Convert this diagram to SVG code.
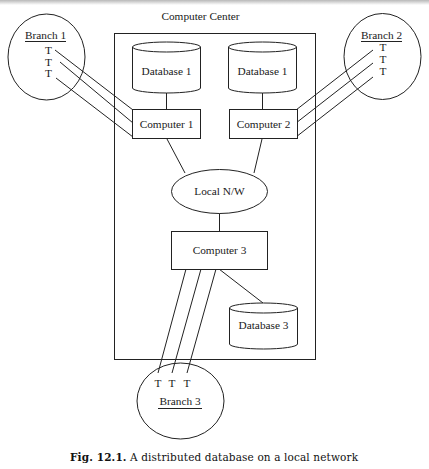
<svg xmlns="http://www.w3.org/2000/svg" width="429" height="469" viewBox="0 0 429 469">
<defs>
<linearGradient id="shade" x1="0" y1="0" x2="0" y2="1">
<stop offset="0" stop-color="#b8b8b8"/>
<stop offset="1" stop-color="#ffffff"/>
</linearGradient>
</defs>
<style>
.ln{fill:none;stroke:#222;stroke-width:1}
.sh{fill:#fff;stroke:#222;stroke-width:1}
.t{font-family:"Liberation Serif","Times New Roman",serif;font-size:11.3px;fill:#1a1a1a;text-anchor:middle}
.cap{font-family:"DejaVu Serif","Liberation Serif",serif;font-size:10.5px;fill:#111}
</style>
<rect width="429" height="469" fill="#fff"/>
<rect x="0" y="0" width="429" height="5" fill="url(#shade)"/>
<g id="center">
<rect class="sh" x="114.5" y="33.5" width="201" height="326"/>
<text class="t" x="200.5" y="20">Computer Center</text>
</g>
<g id="connectors">
<line class="ln" x1="55" y1="50" x2="133" y2="110"/>
<line class="ln" x1="60" y1="62" x2="133" y2="123"/>
<line class="ln" x1="56" y1="78" x2="133" y2="137"/>
<line class="ln" x1="373" y1="50" x2="296" y2="110"/>
<line class="ln" x1="373" y1="63" x2="296" y2="123"/>
<line class="ln" x1="373" y1="77" x2="296" y2="137"/>
<line class="ln" x1="166.5" y1="93" x2="166.5" y2="109"/>
<line class="ln" x1="262.5" y1="93" x2="262.5" y2="109"/>
<line class="ln" x1="167" y1="139" x2="185" y2="173"/>
<line class="ln" x1="262" y1="139" x2="254" y2="173"/>
<line class="ln" x1="219.5" y1="213" x2="219.5" y2="231"/>
<line class="ln" x1="219" y1="269" x2="263" y2="303"/>
<line class="ln" x1="186" y1="269" x2="158" y2="373"/>
<line class="ln" x1="201" y1="269" x2="172" y2="373"/>
<line class="ln" x1="216" y1="269" x2="187" y2="373"/>
</g>
<g id="branch1">
<ellipse class="ln" cx="46.5" cy="57" rx="38.5" ry="43"/>
<text class="t" x="45.5" y="39">Branch 1</text>
<line class="ln" x1="25" y1="41.5" x2="66" y2="41.5"/>
<text class="t" x="48.5" y="54">T</text>
<text class="t" x="48.5" y="65.5">T</text>
<text class="t" x="48.5" y="77">T</text>
</g>
<g id="branch2">
<ellipse class="ln" cx="382.5" cy="56.5" rx="38.5" ry="43"/>
<text class="t" x="381.5" y="39">Branch 2</text>
<line class="ln" x1="361" y1="41.5" x2="402" y2="41.5"/>
<text class="t" x="383" y="51">T</text>
<text class="t" x="383" y="63">T</text>
<text class="t" x="383" y="75">T</text>
</g>
<g id="branch3">
<ellipse class="ln" cx="180.5" cy="401" rx="43.5" ry="38"/>
<text class="t" x="158" y="387">T</text>
<text class="t" x="172" y="387">T</text>
<text class="t" x="187" y="387">T</text>
<text class="t" x="180" y="405">Branch 3</text>
<line class="ln" x1="158" y1="408.5" x2="202" y2="408.5"/>
</g>
<g id="db1a">
<path class="sh" d="M132.5,47 A34,5 0 0 1 200.5,47 L200.5,88 A34,5 0 0 1 132.5,88 Z"/>
<path class="ln" d="M132.5,47 A34,5 0 0 0 200.5,47"/>
<text class="t" x="166.5" y="75">Database 1</text>
</g>
<g id="db1b">
<path class="sh" d="M228.5,47 A34,5 0 0 1 296.5,47 L296.5,88 A34,5 0 0 1 228.5,88 Z"/>
<path class="ln" d="M228.5,47 A34,5 0 0 0 296.5,47"/>
<text class="t" x="262.5" y="75">Database 1</text>
</g>
<g id="computer1">
<rect class="sh" x="132.5" y="109.5" width="68" height="29"/>
<text class="t" x="166.5" y="128">Computer 1</text>
</g>
<g id="computer2">
<rect class="sh" x="229.5" y="109.5" width="68" height="29"/>
<text class="t" x="263.5" y="128">Computer 2</text>
</g>
<g id="localnw">
<ellipse class="sh" cx="219.5" cy="191.5" rx="48" ry="22"/>
<text class="t" x="219.5" y="195">Local N/W</text>
</g>
<g id="computer3">
<rect class="sh" x="171.5" y="231.5" width="96" height="38"/>
<text class="t" x="219.5" y="254">Computer 3</text>
</g>
<g id="db3">
<path class="sh" d="M229.5,308 A34,5 0 0 1 297.5,308 L297.5,344 A34,5 0 0 1 229.5,344 Z"/>
<path class="ln" d="M229.5,308 A34,5 0 0 0 297.5,308"/>
<text class="t" x="263.5" y="329">Database 3</text>
</g>
<text class="cap" x="70" y="461" textLength="288" lengthAdjust="spacing"><tspan font-weight="bold">Fig. 12.1.</tspan> A distributed database on a local network</text>
</svg>
